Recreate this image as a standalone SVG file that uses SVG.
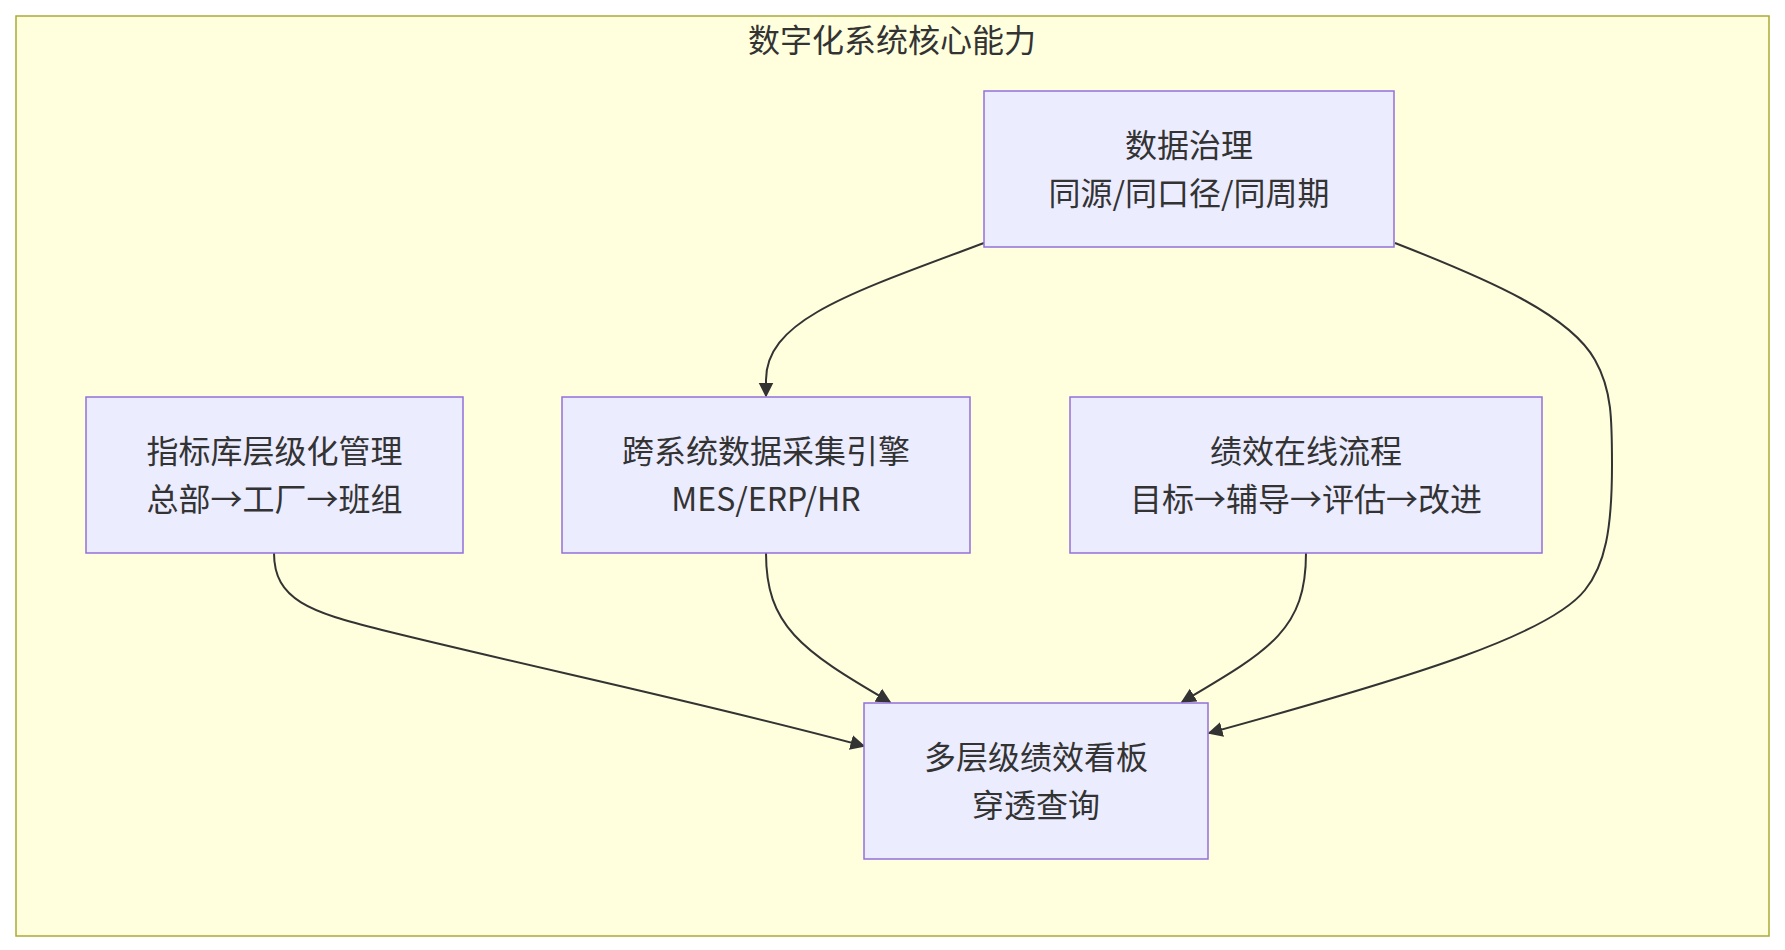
<svg xmlns="http://www.w3.org/2000/svg" width="1785" height="950" viewBox="0 0 1785 950">
<style>
  .cluster { fill: #ffffde; stroke: #aaaa33; stroke-width: 1.5; }
  .node rect { fill: #ececff; stroke: #9370db; stroke-width: 1.5; }
  .label { font-family: "Noto Sans CJK SC", "DejaVu Sans", sans-serif; font-size: 32px; fill: #333333; text-anchor: middle; }
  .edge { fill: none; stroke: #333333; stroke-width: 2; }
</style>
<defs>
  <marker id="arrow" viewBox="0 0 10 10" refX="9" refY="5" markerUnits="userSpaceOnUse" markerWidth="15" markerHeight="16" orient="auto">
    <path d="M0,0 L10,5 L0,10 z" fill="#333333"/>
  </marker>
</defs>
<rect width="1785" height="950" fill="#ffffff"/>
<g id="cluster">
  <rect class="cluster" x="16" y="16" width="1753" height="920"/>
  <text class="label" x="892" y="52">数字化系统核心能力</text>
</g>
<g id="connectors">
  <path class="edge" d="M984,243 C850,293 766,320 766,380 L766,396" marker-end="url(#arrow)"/>
  <path class="edge" d="M1395,243 C1490,280 1570,315 1595,360 C1612,390 1612,420 1612,465 C1612,530 1605,565 1585,590 C1550,634 1420,675 1209,733" marker-end="url(#arrow)"/>
  <path class="edge" d="M274,553 C274,600 310,612 382,630 C540,669 700,702 864,746" marker-end="url(#arrow)"/>
  <path class="edge" d="M766,553 C766,625 800,650 890,702" marker-end="url(#arrow)"/>
  <path class="edge" d="M1306,553 C1306,630 1270,650 1182,702" marker-end="url(#arrow)"/>
</g>
<g id="node-governance" class="node">
  <rect x="984" y="91" width="410" height="156"/>
  <text class="label" x="1189" y="157">数据治理</text>
  <text class="label" x="1189" y="205">同源/同口径/同周期</text>
</g>
<g id="node-indicator" class="node">
  <rect x="86" y="397" width="377" height="156"/>
  <text class="label" x="274.5" y="463">指标库层级化管理</text>
  <text class="label" x="274.5" y="511">总部→工厂→班组</text>
</g>
<g id="node-collect" class="node">
  <rect x="562" y="397" width="408" height="156"/>
  <text class="label" x="766" y="463">跨系统数据采集引擎</text>
  <text class="label" x="766" y="511">MES/ERP/HR</text>
</g>
<g id="node-process" class="node">
  <rect x="1070" y="397" width="472" height="156"/>
  <text class="label" x="1306" y="463">绩效在线流程</text>
  <text class="label" x="1306" y="511">目标→辅导→评估→改进</text>
</g>
<g id="node-dashboard" class="node">
  <rect x="864" y="703" width="344" height="156"/>
  <text class="label" x="1036" y="769">多层级绩效看板</text>
  <text class="label" x="1036" y="817">穿透查询</text>
</g>
</svg>
